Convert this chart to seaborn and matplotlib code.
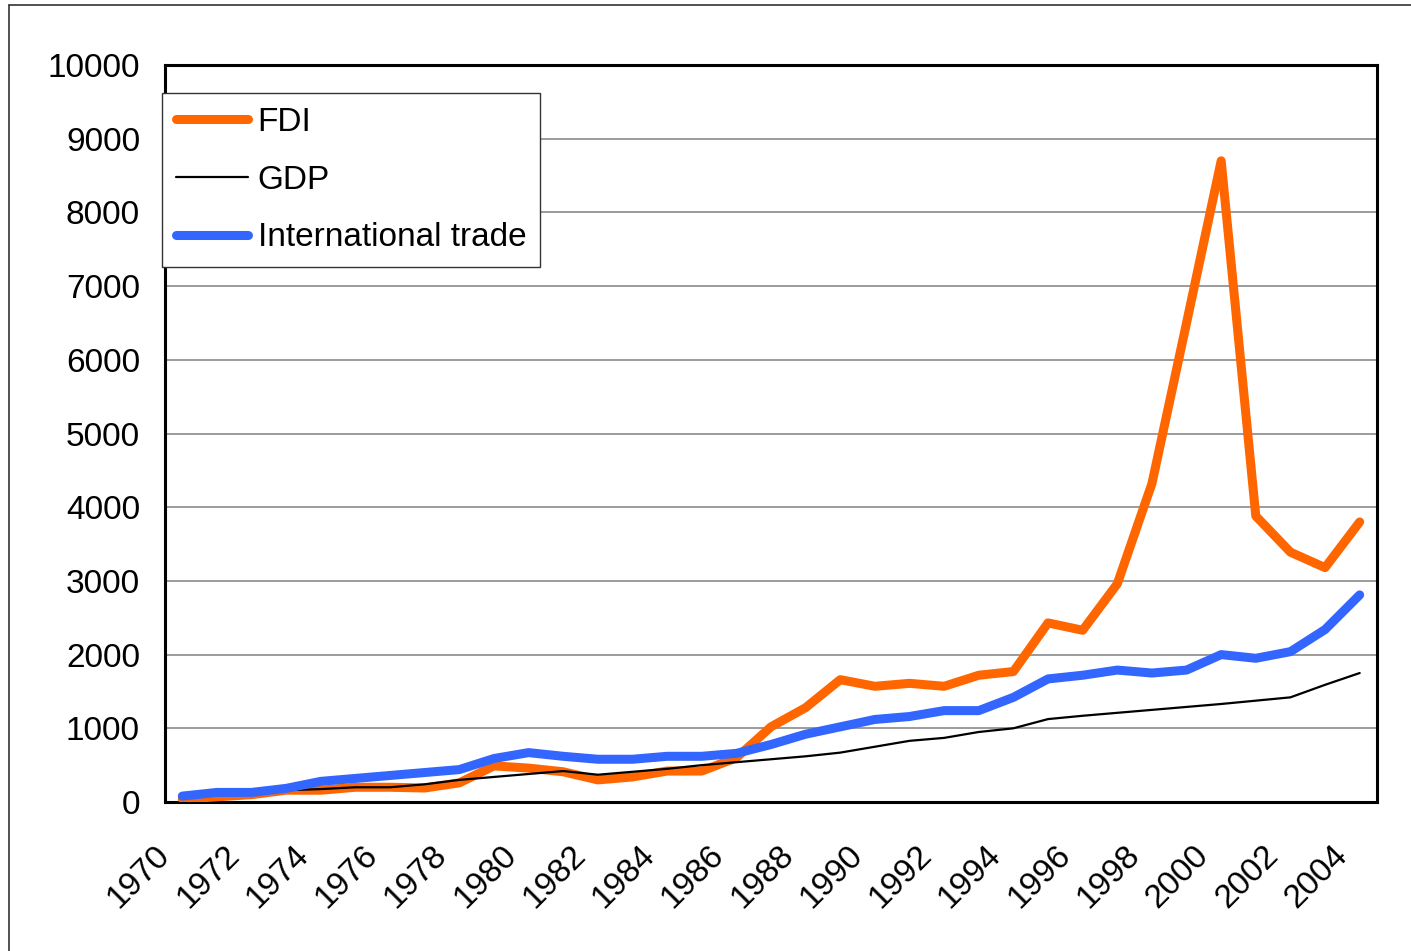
import numpy as np
import pandas as pd
import matplotlib
matplotlib.use("Agg")
import matplotlib.pyplot as plt
import matplotlib.transforms as mtransforms
import seaborn as sns
from matplotlib.lines import Line2D

# ==============================
# DATA
# ==============================
years = list(range(1970, 2005))
fdi = [40, 70, 100, 160, 160, 200, 200, 190, 260, 490, 460, 410, 300, 340, 420,
       420, 600, 1020, 1280, 1660, 1570, 1610, 1570, 1720, 1770, 2430, 2330, 2960,
       4320, 6500, 8700, 3880, 3390, 3180, 3800]
gdp = [80, 95, 120, 160, 175, 200, 200, 240, 300, 340, 380, 420, 370, 410, 450,
       500, 540, 580, 620, 670, 750, 830, 870, 950, 1000, 1125, 1170, 1210, 1250,
       1290, 1330, 1375, 1420, 1590, 1750]
trade = [80, 130, 130, 185, 280, 320, 360, 400, 440, 590, 670, 620, 580, 580, 620,
         620, 660, 780, 920, 1020, 1120, 1160, 1240, 1240, 1420, 1670, 1720, 1790,
         1750, 1790, 2000, 1950, 2040, 2340, 2810]
series_names = ["FDI", "GDP", "International trade"]
series_colors = ["#FF6600", "#000000", "#3366FF"]
series_widths = [6.5, 1.6, 6.5]

df = pd.DataFrame({"year": years, "FDI": fdi, "GDP": gdp, "International trade": trade})
df["pos"] = np.arange(len(years))  # category positions

# ==============================
# STYLE
# ==============================
sns.set_style("white")
plt.rcParams["font.family"] = ["Liberation Sans", "DejaVu Sans"]
plt.rcParams["text.color"] = "black"
FS = 24

fig = plt.figure(figsize=(14.11, 9.51), dpi=100)
ax = fig.add_axes([165 / 1411, 1 - 802 / 951, (1377 - 165) / 1411, (802 - 65) / 951])

# outer chart-area border (only left and top visible in the reference)
fig.add_artist(Line2D([9 / 1411, 9 / 1411], [0, 1 - 5 / 951], transform=fig.transFigure,
                      color="#333333", lw=1.2))
fig.add_artist(Line2D([9 / 1411, 1], [1 - 5 / 951, 1 - 5 / 951], transform=fig.transFigure,
                      color="#333333", lw=1.2))

# ==============================
# LINES
# ==============================
for name, col, lw in zip(series_names, series_colors, series_widths):
    sns.lineplot(data=df, x="pos", y=name, ax=ax, color=col, linewidth=lw,
                 label=name, solid_capstyle="round", solid_joinstyle="round", zorder=3)

# ==============================
# AXES
# ==============================
ax.set_xlim(-0.5, len(years) - 0.5)
ax.set_ylim(0, 10000)
ax.set_yticks(np.arange(0, 10001, 1000))
ax.set_yticklabels([str(v) for v in range(0, 10001, 1000)], fontsize=FS)
ax.set_xticks(df["pos"][::2])
ax.set_xticklabels([str(y) for y in years[::2]], fontsize=FS, rotation=45,
                   ha="right", va="center", rotation_mode="anchor")
ax.set_xticks(np.arange(-0.5, len(years), 1), minor=True)
ax.tick_params(axis="x", which="major", length=0, pad=35, labelcolor="black")
ax.tick_params(axis="x", which="minor", length=8, width=1, color="#808080", direction="out")
ax.tick_params(axis="y", which="major", length=8, width=1, color="#000000",
               direction="in", pad=18, labelcolor="black")
ax.set_xlabel("")
ax.set_ylabel("")

# nudge the rotated year labels left so they end just before the category centre
shift = mtransforms.ScaledTranslation(-17 / 100, 0, fig.dpi_scale_trans)
for lab in ax.get_xticklabels():
    lab.set_transform(lab.get_transform() + shift)

ax.grid(axis="y", color="#808080", linewidth=1.1, zorder=0)
ax.grid(axis="x", visible=False)
ax.set_axisbelow(True)
for s in ax.spines.values():
    s.set_visible(True)
    s.set_color("black")
    s.set_linewidth(2.2)

# ==============================
# LEGEND
# ==============================
leg = ax.legend(loc="upper left", bbox_to_anchor=(162 / 1411, 1 - 93 / 951),
                bbox_transform=fig.transFigure, fontsize=FS, frameon=True,
                fancybox=False, edgecolor="#333333", framealpha=1,
                handlelength=2.15, handletextpad=0.3, labelspacing=0.8,
                borderpad=0.42, borderaxespad=0)
leg.get_frame().set_linewidth(1.0)
leg.set_zorder(5)
for t in leg.get_texts():
    t.set_color("black")

fig.savefig("out.png", dpi=100, facecolor="white")
